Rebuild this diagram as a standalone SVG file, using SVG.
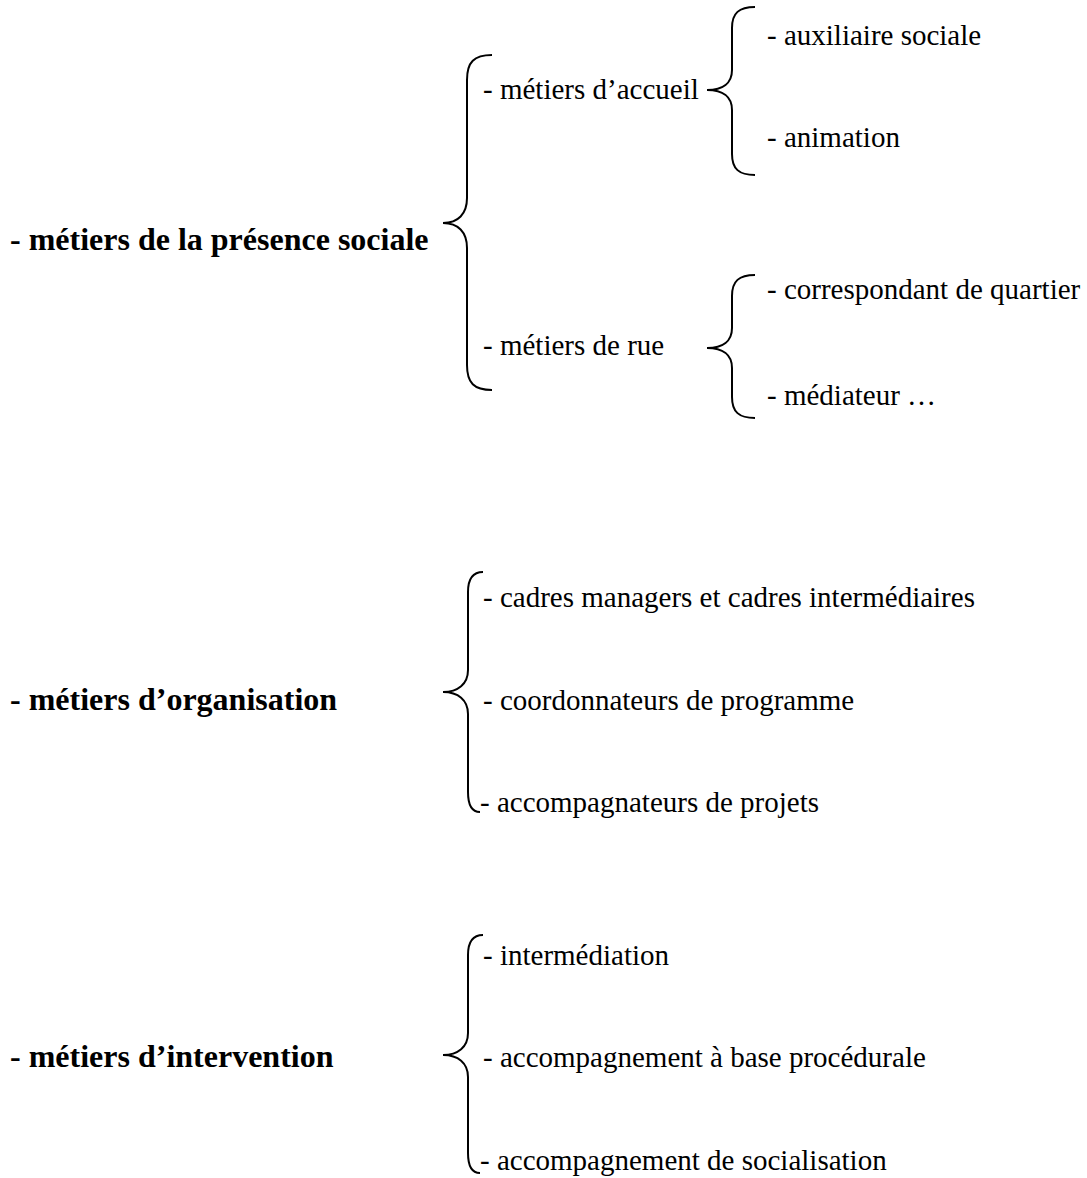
<svg xmlns="http://www.w3.org/2000/svg" width="1087" height="1178" viewBox="0 0 1087 1178">
<style>
text{font-family:"Liberation Serif","Times New Roman",serif;fill:#000}
.b{font-weight:bold;font-size:32px}
.r{font-size:29px}
.br{fill:none;stroke:#000;stroke-width:2}
</style>
<rect width="1087" height="1178" fill="#fff"/>
<g id="connectors">
<path class="br" d="M492 55 C474 55 467 62 467 80 L467 198 C467 214 458 223 443 223 C458 223 467 232 467 248 L467 365 C467 383 474 390 492 390"/>
<path class="br" d="M755 7 C739 7 732 13 732 28 L732 70 C732 83 723 90 707 90 C723 90 732 97 732 110 L732 154 C732 169 739 175 755 175"/>
<path class="br" d="M755 275 C739 275 732 281 732 296 L732 328 C732 341 723 348 707 348 C723 348 732 355 732 368 L732 397 C732 412 739 418 755 418"/>
<path class="br" d="M483 572 C473 572 468 578 468 592 L468 670 C468 684 458 692 443 692 C458 692 468 700 468 714 L468 792 C468 806 472 812 480 812"/>
<path class="br" d="M483 935 C473 935 468 941 468 955 L468 1033 C468 1047 458 1055 443 1055 C458 1055 468 1063 468 1077 L468 1153 C468 1167 472 1173 480 1173"/>
</g>
<g id="n-presence"><text class="b" x="10" y="250">- métiers de la présence sociale</text></g>
<g id="n-accueil"><text class="r" x="483" y="99">- métiers d’accueil</text></g>
<g id="n-auxiliaire"><text class="r" x="767" y="45">- auxiliaire sociale</text></g>
<g id="n-animation"><text class="r" x="767" y="147">- animation</text></g>
<g id="n-rue"><text class="r" x="483" y="355">- métiers de rue</text></g>
<g id="n-correspondant"><text class="r" x="767" y="299">- correspondant de quartier</text></g>
<g id="n-mediateur"><text class="r" x="767" y="405">- médiateur …</text></g>
<g id="n-organisation"><text class="b" x="10" y="710">- métiers d’organisation</text></g>
<g id="n-cadres"><text class="r" x="483" y="607">- cadres managers et cadres intermédiaires</text></g>
<g id="n-coordonnateurs"><text class="r" x="483" y="710">- coordonnateurs de programme</text></g>
<g id="n-accompagnateurs"><text class="r" x="480" y="812">- accompagnateurs de projets</text></g>
<g id="n-intervention"><text class="b" x="10" y="1067">- métiers d’intervention</text></g>
<g id="n-intermediation"><text class="r" x="483" y="965">- intermédiation</text></g>
<g id="n-procedurale"><text class="r" x="483" y="1067">- accompagnement à base procédurale</text></g>
<g id="n-socialisation"><text class="r" x="480" y="1170">- accompagnement de socialisation</text></g>
</svg>
